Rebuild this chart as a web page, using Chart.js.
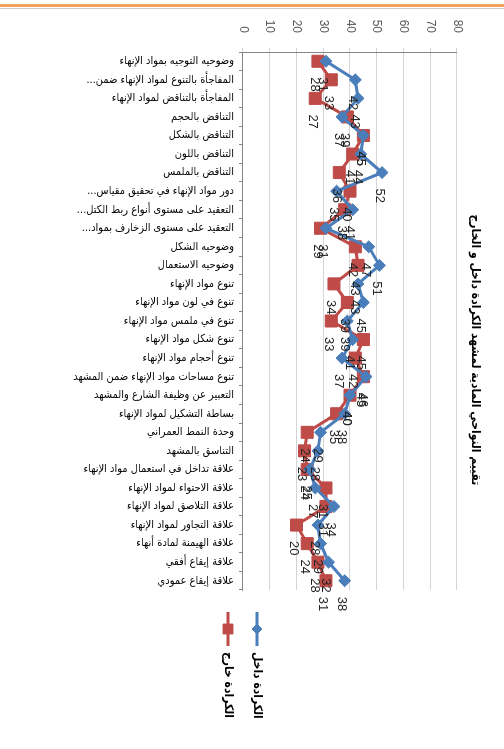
<!DOCTYPE html>
<html>
<head>
<meta charset="utf-8">
<script src="https://cdn.jsdelivr.net/npm/chart.js@4.4.1/dist/chart.umd.min.js"></script>
<style>
  html, body { margin: 0; padding: 0; background: #fff; width: 504px; height: 749px; overflow: hidden; }
  /* the chart is laid out landscape and turned a quarter turn clockwise */
  #frame { position: absolute; left: 0; top: 0; width: 749px; height: 504px;
           transform-origin: 0 0; transform: translateX(504px) rotate(90deg); }
  #rule { position: absolute; left: 0; top: 4px; width: 504px; height: 3px; background: #f2a05a; }
  #rule2 { position: absolute; left: 0; top: 8px; width: 504px; height: 1px; background: #c8c8c8; }
</style>
</head>
<body>
<div id="frame"><canvas id="c" width="749" height="504" dir="rtl"></canvas></div>
<div id="rule"></div>
<div id="rule2"></div>
<script>
const chartTitle = 'تقييم النواحي المادية لمشهد الكرادة داخل و الخارج';

const categories = [
  'وضوحيه التوجيه بمواد الإنهاء',
  'المفاجأة بالتنوع لمواد الإنهاء ضمن...',
  'المفاجأة بالتناقض لمواد الإنهاء',
  'التناقض بالحجم',
  'التناقض بالشكل',
  'التناقض باللون',
  'التناقض بالملمس',
  'دور مواد الإنهاء في تحقيق مقياس...',
  'التعقيد على مستوى أنواع ربط الكتل...',
  'التعقيد على مستوى الزخارف بمواد...',
  'وضوحيه الشكل',
  'وضوحيه الاستعمال',
  'تنوع مواد الإنهاء',
  'تنوع في لون مواد الإنهاء',
  'تنوع في ملمس مواد الإنهاء',
  'تنوع شكل مواد الإنهاء',
  'تنوع أحجام مواد الإنهاء',
  'تنوع مساحات مواد الإنهاء ضمن المشهد',
  'التعبير عن وظيفة الشارع والمشهد',
  'بساطة التشكيل لمواد الإنهاء',
  'وحدة النمط العمراني',
  'التناسق بالمشهد',
  'علاقة تداخل في استعمال مواد الإنهاء',
  'علاقة الاحتواء لمواد الإنهاء',
  'علاقة التلاصق لمواد الإنهاء',
  'علاقة التجاور لمواد الإنهاء',
  'علاقة الهيمنة لمادة أنهاء',
  'علاقة إيقاع أفقي',
  'علاقة إيقاع عمودي'
];

const seriesNames = ['الكرادة داخل', 'الكرادة خارج'];

const insideValues  = [31, 42, 43, 37, 45, 44, 52, 35, 41, 31, 47, 51, 43, 45, 39, 41, 37, 46, 40, 38, 29, 28, 25, 27, 34, 28, 29, 32, 38];
const outsideValues = [28, 33, 27, 39, 45, 41, 36, 40, 38, 29, 42, 43, 34, 39, 33, 45, 42, 45, 40, 35, 24, 23, 24, 31, 31, 20, 24, 28, 31];

const valueMin = 0;
const valueMax = 80;
const valueStep = 10;

const BLUE = '#4a7ebb';
const RED = '#be4b48';
const ARABIC_FONT = '"DejaVu Sans Condensed", "DejaVu Sans", sans-serif';
const NUM_FONT = '"Liberation Sans", Arial, sans-serif';

// number written beside every marker
const pointValues = {
  id: 'pointValues',
  afterDatasetsDraw(chart) {
    const ctx = chart.ctx;
    ctx.save();
    ctx.font = '13px ' + NUM_FONT;
    ctx.fillStyle = '#262626';
    ctx.textAlign = 'left';
    ctx.textBaseline = 'middle';
    ctx.direction = 'ltr';
    chart.data.datasets.forEach((ds, i) => {
      chart.getDatasetMeta(i).data.forEach((pt, j) => {
        ctx.fillText(String(ds.data[j]), pt.x + 16, pt.y + 3);
      });
    });
    ctx.restore();
  }
};

// heading and series key
const headingAndKey = {
  id: 'headingAndKey',
  afterDraw(chart) {
    const ctx = chart.ctx;
    const area = chart.chartArea;
    ctx.save();
    ctx.fillStyle = '#000';
    ctx.font = 'bold 12px ' + ARABIC_FONT;
    ctx.textAlign = 'center';
    ctx.textBaseline = 'middle';
    ctx.fillText(chartTitle, 350, 29);

    const rows = [area.top + 200, area.top + 229];
    chart.data.datasets.forEach((ds, i) => {
      const y = rows[i];
      const x0 = area.right + 22, x1 = area.right + 56;
      const colour = i === 0 ? BLUE : RED;
      ctx.setLineDash([]);
      ctx.globalAlpha = 1;
      ctx.strokeStyle = colour;
      ctx.lineWidth = 3;
      ctx.beginPath();
      ctx.moveTo(x0, y);
      ctx.lineTo(x1, y);
      ctx.stroke();
      ctx.fillStyle = colour;
      ctx.lineWidth = 1;
      Chart.helpers.drawPoint(ctx, {
        pointStyle: i === 0 ? 'rectRot' : 'rect',
        radius: i === 0 ? 5 : 7,
        borderWidth: 1
      }, (x0 + x1) / 2, y);
      ctx.fillStyle = '#000';
      ctx.font = 'bold 12px ' + ARABIC_FONT;
      ctx.textAlign = 'left';
      ctx.fillText(ds.label, x1 + 6, y);
    });
    ctx.restore();
  }
};

new Chart(document.getElementById('c'), {
  type: 'line',
  data: {
    labels: categories,
    datasets: [
      {
        label: seriesNames[0],
        data: insideValues,
        borderColor: BLUE,
        backgroundColor: BLUE,
        borderWidth: 3,
        pointStyle: 'rectRot',
        pointRadius: 6,
        pointBorderWidth: 1,
        tension: 0
      },
      {
        label: seriesNames[1],
        data: outsideValues,
        borderColor: RED,
        backgroundColor: RED,
        borderWidth: 3,
        pointStyle: 'rect',
        pointRadius: 8.5,
        pointBorderWidth: 1,
        tension: 0
      }
    ]
  },
  options: {
    responsive: false,
    animation: false,
    devicePixelRatio: 1,
    layout: { padding: { left: 0, top: 47, right: 159, bottom: 0 } },
    plugins: {
      legend: { display: false },
      title: { display: false },
      tooltip: { enabled: false }
    },
    scales: {
      x: {
        type: 'category',
        offset: true,
        afterFit(scale) { scale.height = 243; },
        grid: { drawOnChartArea: false, drawTicks: true, tickLength: 4, color: '#868686', offset: true },
        border: { color: '#868686' },
        ticks: {
          autoSkip: false,
          minRotation: 90,
          maxRotation: 90,
          padding: 5,
          color: '#000',
          font: { family: ARABIC_FONT, size: 11 }
        }
      },
      y: {
        min: valueMin,
        max: valueMax,
        afterFit(scale) { scale.width = 52; },
        grid: { color: '#d4d4d4', tickLength: 4 },
        border: { color: '#868686' },
        ticks: {
          stepSize: valueStep,
          padding: 15,
          color: '#595959',
          font: { family: NUM_FONT, size: 12 }
        }
      }
    }
  },
  plugins: [pointValues, headingAndKey]
});
</script>
</body>
</html>
